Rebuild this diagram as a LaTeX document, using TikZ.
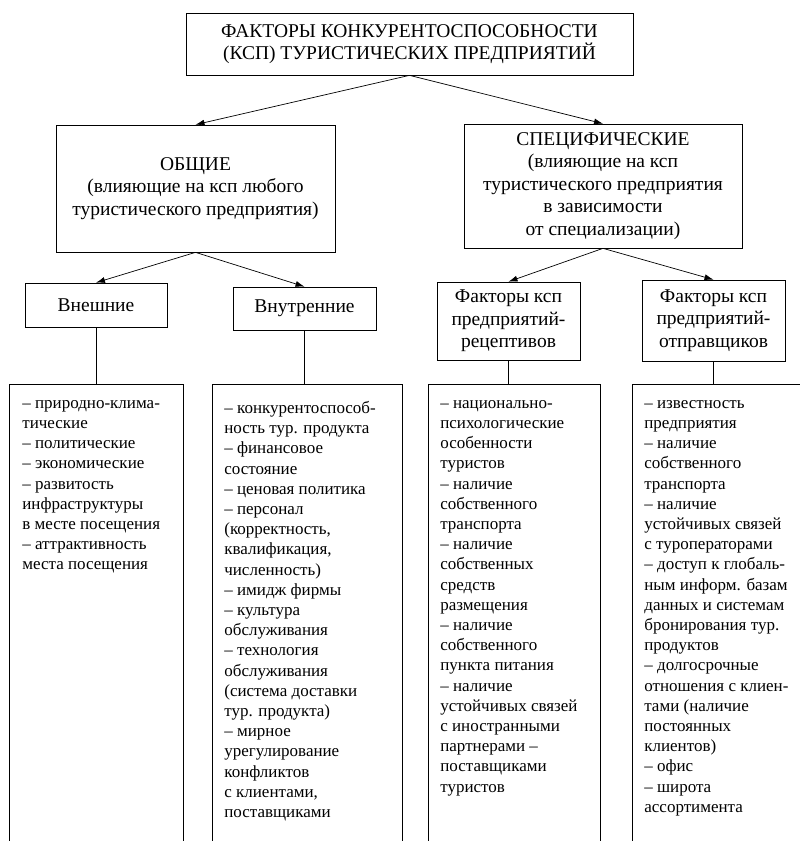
\documentclass[tikz,border=0pt]{standalone}
\usepackage{fontspec}
\setmainfont{Liberation Serif}
\usetikzlibrary{arrows.meta}

\tikzset{
  box/.style={draw,rectangle,inner sep=0pt,align=center,font=\fontsize{19.5}{22.5}\selectfont},
  listframe/.style={draw,rectangle,inner sep=0pt,anchor=north west,minimum height=520pt},
  listtext/.style={anchor=north west,inner sep=0pt,align=left,font=\fontsize{17}{20.2}\selectfont},
  link/.style={-{Latex[length=9pt,width=6pt]}},
}

\begin{document}
\begin{tikzpicture}[x=1pt,y=-1pt,line width=0.7pt]
  \path[clip] (0,0) rectangle (800,841);
  \fill[white] (0,0) rectangle (800,841);

  \node[box,minimum width=447pt,minimum height=62pt] (title) at (409.5,44)
    {ФАКТОРЫ КОНКУРЕНТОСПОСОБНОСТИ\\(КСП) ТУРИСТИЧЕСКИХ ПРЕДПРИЯТИЙ};

  \node[box,minimum width=279pt,minimum height=127pt] (general) at (195.5,188.5)
    {ОБЩИЕ\\(влияющие на ксп любого\\туристического предприятия)};
  \node[box,minimum width=278pt,minimum height=124pt] (special) at (603,186)
    {СПЕЦИФИЧЕСКИЕ\\(влияющие на ксп\\туристического предприятия\\в зависимости\\от специализации)};

  \node[box,minimum width=142pt,minimum height=44pt] (outer) at (96,305) {Внешние};
  \node[box,minimum width=143pt,minimum height=43pt] (inner) at (304.5,308.5) {Внутренние};
  \node[box,minimum width=143pt,minimum height=78pt] (recept) at (508.5,321)
    {Факторы ксп\\предприятий-\\рецептивов};
  \node[box,minimum width=143pt,minimum height=81pt] (sender) at (713.5,320.5)
    {Факторы ксп\\предприятий-\\отправщиков};

  \draw[link] (title.south) -- (general.north);
  \draw[link] (title.south) -- (special.north);
  \draw[link] (general.south) -- (outer.north);
  \draw[link] (general.south) -- (inner.north);
  \draw[link] (special.south) -- (recept.north);
  \draw[link] (special.south) -- (sender.north);

  \node[listframe,minimum width=174pt] (outerlist) at (9,384) {};
  \node[listframe,minimum width=190pt] (innerlist) at (212,384) {};
  \node[listframe,minimum width=172pt] (receptlist) at (428,384) {};
  \node[listframe,minimum width=200pt] (senderlist) at (632,384) {};

  \foreach \a/\b in {outer/outerlist,inner/innerlist,recept/receptlist,sender/senderlist}
    \draw (\a.south) -- (\a.south |- \b.north);

  \node[listtext] (outertext) at ([xshift=13pt,yshift=-16pt]outerlist.north west)
    {– природно-клима-\\тические\\– политические\\– экономические\\– развитость\\инфраструктуры\\в месте посещения\\– аттрактивность\\места посещения};
  \node[listtext] (innertext) at ([xshift=12pt,yshift=-17pt]innerlist.north west)
    {– конкурентоспособ-\\ность тур. продукта\\– финансовое\\состояние\\– ценовая политика\\– персонал\\(корректность,\\квалификация,\\численность)\\– имидж фирмы\\– культура\\обслуживания\\– технология\\обслуживания\\(система доставки\\тур. продукта)\\– мирное\\урегулирование\\конфликтов\\с клиентами,\\поставщиками};
  \node[listtext] (recepttext) at ([xshift=12pt,yshift=-16pt]receptlist.north west)
    {– национально-\\психологические\\особенности\\туристов\\– наличие\\собственного\\транспорта\\– наличие\\собственных\\средств\\размещения\\– наличие\\собственного\\пункта питания\\– наличие\\устойчивых связей\\с иностранными\\партнерами –\\поставщиками\\туристов};
  \node[listtext] (sendertext) at ([xshift=12pt,yshift=-16pt]senderlist.north west)
    {– известность\\предприятия\\– наличие\\собственного\\транспорта\\– наличие\\устойчивых связей\\с туроператорами\\– доступ к глобаль-\\ным информ. базам\\данных и системам\\бронирования тур.\\продуктов\\– долгосрочные\\отношения с клиен-\\тами (наличие\\постоянных\\клиентов)\\– офис\\– широта\\ассортимента};
\end{tikzpicture}
\end{document}
